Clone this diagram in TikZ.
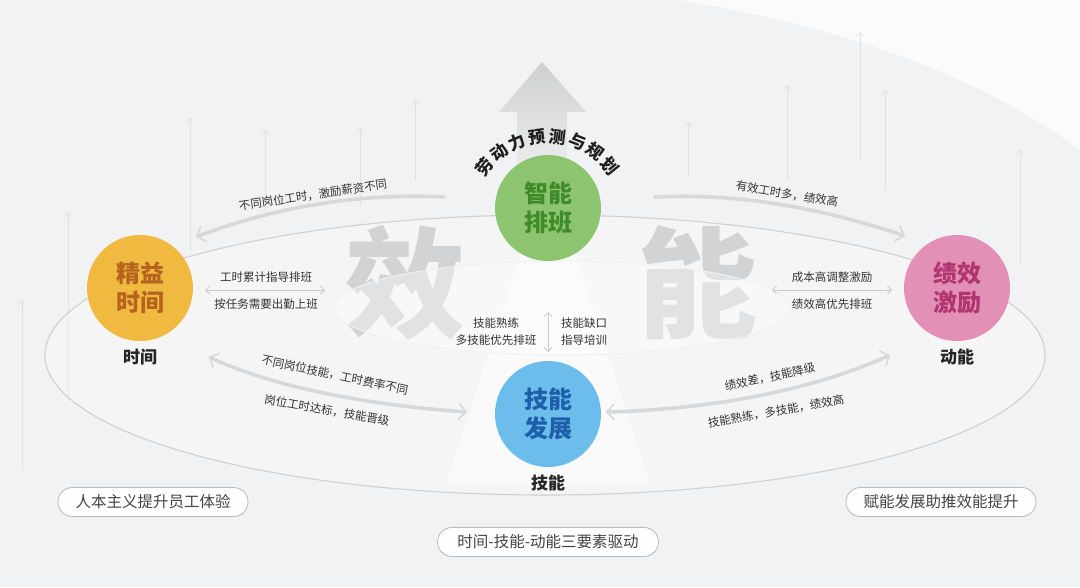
\documentclass[tikz,border=0pt]{standalone}
\usepackage{fontspec}
\setmainfont{Noto Sans CJK SC}
\usetikzlibrary{arrows.meta,calc}
\definecolor{bgc}{HTML}{F1F2F3}
\definecolor{txt}{HTML}{333333}
\definecolor{conn}{HTML}{D7D8D9}
\definecolor{thin}{HTML}{C9CACB}
\definecolor{ell}{HTML}{CFD0D1}
\definecolor{bigc}{HTML}{D2D3D4}
\definecolor{grn}{HTML}{8DC46F}
\definecolor{grnT}{HTML}{3F8A2B}
\definecolor{yel}{HTML}{F0B940}
\definecolor{yelT}{HTML}{B5631E}
\definecolor{pnk}{HTML}{E290B6}
\definecolor{pnkT}{HTML}{B03570}
\definecolor{blu}{HTML}{6CBCEC}
\definecolor{bluT}{HTML}{1E5FA9}
\definecolor{pillb}{HTML}{B8B9BA}
\definecolor{pilltxt}{HTML}{444444}
\begin{document}
\begin{tikzpicture}[x=1pt,y=-1pt,
  lbl/.style={font=\fontsize{11.5}{13}\selectfont, text=txt, inner sep=0pt},
  ctitle/.style={font=\fontsize{24}{29}\selectfont\bfseries, align=center},
  circ/.style={circle, minimum size=106pt, inner sep=0pt},
  dimlabel/.style={font=\fontsize{17}{19}\selectfont\bfseries, text=black!85},
  bigchar/.style={font=\fontsize{120}{120}\selectfont\bfseries, text=bigc, inner sep=0pt},
  arcchar/.style={font=\fontsize{17}{19}\selectfont\bfseries, text=black!88, inner sep=0pt, text height=12pt, text depth=1pt},
  bgarrow/.style={draw=black!12, line width=0.7pt, -{Straight Barb[length=4pt,width=7pt]}},
  bigconn/.style={draw=conn, line width=3.6pt, line cap=round},
  thinconn/.style={draw=thin, line width=0.8pt, {Straight Barb[length=4pt,width=8pt]}-{Straight Barb[length=4pt,width=8pt]}},
  pill/.style={draw=pillb, line width=0.8pt, fill=white!96!bgc, rounded corners=14.5pt, minimum width=190pt, minimum height=29pt, inner sep=0pt, font=\fontsize{15.5}{17}\selectfont, text=pilltxt}
]
\useasboundingbox (0,0) rectangle (1080,587);
% background
\fill[bgc] (0,0) rectangle (1080,587);
\fill[white, opacity=0.75] (680,0) .. controls (800,20) and (960,60) .. (1080,150) -- (1080,0) -- cycle;
% faint vertical arrows
\foreach \x/\ya/\yb in {68/400/212, 190/250/118, 265/212/130, 360/205/128, 415/180/100, 688/175/122, 787/180/85, 860/160/32, 885/190/90, 1020/265/150, 22/470/300}{
  \coordinate (va\x) at (\x,\ya);
  \coordinate (vb\x) at (\x,\yb);
  \draw[bgarrow] (va\x) -- (vb\x);
}
% outer ellipse
\coordinate (oe) at (545,355);
\draw[ell, line width=1.1pt, fill=white, fill opacity=0.3] (oe) ellipse [x radius=500, y radius=140];
% big up arrow
\shade[top color=black!20, bottom color=bgc, opacity=0.9]
  (542,62) -- (586,112) -- (567,112) -- (567,185) -- (517,185) -- (517,112) -- (499,112) -- cycle;
% light cone
\fill[white, opacity=0.55] (522,250) -- (574,250) -- (650,485) -- (446,485) -- cycle;
% big characters
\node[bigchar] (xiao) at (405,283) {效};
\node[bigchar] (neng) at (697,283) {能};
% inner ellipse
\coordinate (ie) at (562,308);
\draw[draw=white!70!ell, line width=1pt, fill=white, fill opacity=0.35] (ie) ellipse [x radius=228, y radius=47];

% circles
\node[circ, fill=grn, text=grnT, ctitle] (zn) at (548,208) {智能\\排班};
\node[circ, fill=yel, text=yelT, ctitle] (jy) at (140,288) {精益\\时间};
\node[circ, fill=pnk, text=pnkT, ctitle] (jx) at (957,288) {绩效\\激励};
\node[circ, fill=blu, text=bluT, ctitle] (jn) at (548,414) {技能\\发展};

% dimension labels
\node[dimlabel] (lt) at (140,357) {时间};
\node[dimlabel] (ld) at (957,357) {动能};
\node[dimlabel] (lj) at (548,483) {技能};

% arc text above green circle
\foreach \c [count=\i from 0] in {劳,动,力,预,测,与,规,划}{
  \pgfmathsetmacro{\ang}{142-14.7*\i}
  \node[arcchar, rotate=\ang-90]
    (arc\i) at ({548+79*cos(\ang)},{216-79*sin(\ang)}) {\c};
}

% connector 1: top-left
\coordinate (c1s) at (444,197);
\coordinate (c1e) at (196,237);
\draw[bigconn, -{Straight Barb[length=7pt,width=16pt,line width=1.6pt]}] (c1s) .. controls (350,192) and (260,212) .. (c1e);
\node[lbl, rotate=8.5] (t1) at (313,195) {不同岗位工时，激励薪资不同};

% connector 2: top-right
\coordinate (c2s) at (655,197);
\coordinate (c2e) at (905,236);
\draw[bigconn, -{Straight Barb[length=7pt,width=16pt,line width=1.6pt]}] (c2s) .. controls (750,192) and (840,214) .. (c2e);
\node[lbl, rotate=-9.5] (t2) at (787,194) {有效工时多，绩效高};

% connector 3: left horizontal
\coordinate (c3s) at (205,290);
\coordinate (c3e) at (325,290);
\draw[thinconn] (c3s) -- (c3e);
\node[lbl] (t3a) at (266,277) {工时累计指导排班};
\node[lbl] (t3b) at (266,304) {按任务需要出勤上班};

% connector 4: right horizontal
\coordinate (c4s) at (772,290);
\coordinate (c4e) at (892,290);
\draw[thinconn] (c4s) -- (c4e);
\node[lbl] (t4a) at (832,277) {成本高调整激励};
\node[lbl] (t4b) at (832,304) {绩效高优先排班};

% connector 5: center vertical
\coordinate (c5s) at (548,312);
\coordinate (c5e) at (548,352);
\draw[thinconn] (c5s) -- (c5e);
\node[lbl] (t5a) at (496,323) {技能熟练};
\node[lbl] (t5b) at (496,340) {多技能优先排班};
\node[lbl] (t5c) at (584,323) {技能缺口};
\node[lbl] (t5d) at (584,340) {指导培训};

% connector 6: bottom-left
\coordinate (c6s) at (209,357);
\coordinate (c6e) at (467,412);
\draw[bigconn, {Straight Barb[length=7pt,width=16pt,line width=1.6pt]}-{Straight Barb[length=7pt,width=16pt,line width=1.6pt]}] (c6s) .. controls (280,390) and (380,406) .. (c6e);
\node[lbl, rotate=-12] (t6a) at (335,375) {不同岗位技能，工时费率不同};
\node[lbl, rotate=-10] (t6b) at (327,410) {岗位工时达标，技能晋级};

% connector 7: bottom-right
\coordinate (c7s) at (606,412);
\coordinate (c7e) at (890,355);
\draw[bigconn, {Straight Barb[length=7pt,width=16pt,line width=1.6pt]}-{Straight Barb[length=7pt,width=16pt,line width=1.6pt]}] (c7s) .. controls (690,410) and (800,396) .. (c7e);
\node[lbl, rotate=12] (t7a) at (770,377) {绩效差，技能降级};
\node[lbl, rotate=10] (t7b) at (776,411) {技能熟练，多技能，绩效高};

% pills
\node[pill] (p1) at (153,502) {人本主义提升员工体验};
\node[pill] (p2) at (941,502) {赋能发展助推效能提升};
\node[pill, minimum width=221pt] (p3) at (548,542) {时间-技能-动能三要素驱动};
\end{tikzpicture}
\end{document}
